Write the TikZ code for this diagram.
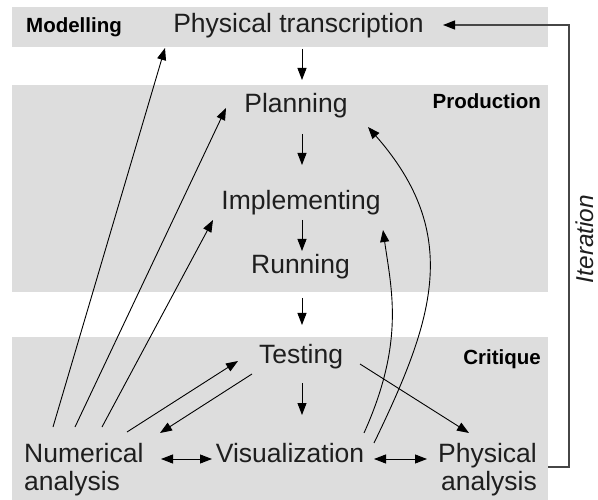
\documentclass[tikz,border=0pt]{standalone}
\usepackage{fontspec}
\setmainfont{Liberation Sans}
\usetikzlibrary{arrows.meta}
\definecolor{bandgray}{RGB}{221,221,221}
\definecolor{txt}{RGB}{30,30,30}
\definecolor{itergray}{RGB}{70,70,70}
\tikzset{
  stage/.style={font=\fontsize{26.5}{28}\selectfont, inner sep=0pt, text=txt},
  phase/.style={font=\fontsize{20.5}{24}\selectfont\bfseries, inner sep=0pt, text=black},
  arr/.style={line width=0.9pt, -{Triangle[length=12pt,width=9pt]}},
  dbl/.style={line width=0.9pt, {Triangle[length=12pt,width=9pt]}-{Triangle[length=12pt,width=9pt]}},
  iterline/.style={line width=1.3pt, draw=itergray, -{Triangle[length=12pt,width=9pt,color=black]}},
  band/.style={fill=bandgray, draw=none}
}
\begin{document}
\begin{tikzpicture}[x=1pt,y=-1pt]
\useasboundingbox (0,0) rectangle (598,500);
% bands
\fill[bandgray] (12,7) rectangle (548,47);
\fill[bandgray] (12,85) rectangle (548,292);
\fill[bandgray] (12,337) rectangle (548,500);
% phase labels
\node[phase, anchor=base west] (modl) at (26,33) {Modelling};
\node[phase, anchor=base east] (prod) at (541,109) {Production};
\node[phase, anchor=base east] (crit) at (541,364) {Critique};
% stages
\node[stage, anchor=base] (pt) at (298.5,33) {Physical transcription};
\node[stage, anchor=base] (plan) at (296,113) {Planning};
\node[stage, anchor=base] (impl) at (301,210) {Implementing};
\node[stage, anchor=base] (run) at (300.5,274) {Running};
\node[stage, anchor=base] (test) at (301,363) {Testing};
\node[stage, anchor=base] (vis) at (290,462) {Visualization};
\node[stage, anchor=north west, align=left] (num) at (24,443) {Numerical\\analysis};
\node[stage, anchor=north east, align=right] (phy) at (537,443) {Physical\\analysis};
\node[font=\fontsize{24.4}{26}\selectfont\itshape, inner sep=0pt, text=txt, rotate=90] (iterlbl) at (584.5,239) {Iteration};
% vertical flow
\draw[arr] ([shift={(3.5,16)}]pt.base) -- ([shift={(6,-33)}]plan.base);
\draw[arr] ([shift={(6,21)}]plan.base) -- ([shift={(1,-45)}]impl.base);
\draw[arr] ([shift={(1,10)}]impl.base) -- ([shift={(1.5,-23)}]run.base);
\draw[arr] ([shift={(1.5,24)}]run.base) -- ([shift={(1,-38)}]test.base);
\draw[arr] ([shift={(1,20)}]test.base) -- ([shift={(12,-47)}]vis.base);
% horizontal
\draw[dbl] ([shift={(137,16)}]num.north west) -- ([shift={(-78,-3)}]vis.base);
\draw[dbl] ([shift={(84,-3)}]vis.base) -- ([shift={(-110,16)}]phy.north east);
% testing links
\draw[arr] ([shift={(-49,11)}]test.base) -- ([shift={(136,-10)}]num.north west);
\draw[arr] ([shift={(103,-11)}]num.north west) -- ([shift={(-63,-2)}]test.base);
\draw[arr] ([shift={(59,1)}]test.base) -- ([shift={(-68,-10)}]phy.north east);
% numerical analysis feedback
\draw[arr] ([shift={(29,-16)}]num.north west) -- ([shift={(-133.5,15)}]pt.base);
\draw[arr] ([shift={(51,-16)}]num.north west) -- ([shift={(-70,-5)}]plan.base);
\draw[arr] ([shift={(78,-16)}]num.north west) -- ([shift={(-88,10)}]impl.base);
% visualization feedback curves
\draw[arr] ([shift={(84,-19)}]vis.base) .. controls +(59,-122) and +(95,108) .. ([shift={(72,14)}]plan.base);
\draw[arr] ([shift={(74,-29)}]vis.base) .. controls +(41,-91) and +(8.5,60) .. ([shift={(82,20)}]impl.base);
% iteration
\draw[iterline] ([shift={(11,24)}]phy.north east) -- ++(21,0) |- ([shift={(144.5,-8)}]pt.base);
\end{tikzpicture}
\end{document}
